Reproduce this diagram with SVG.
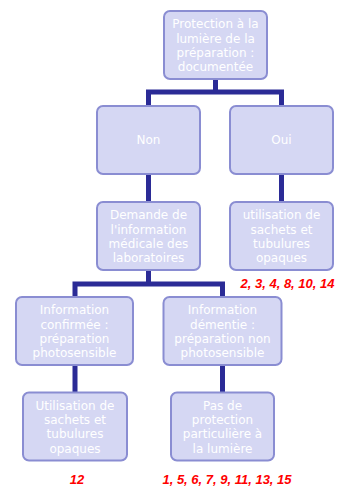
<svg xmlns="http://www.w3.org/2000/svg" width="337" height="486" viewBox="0 0 337 486">
<style>
.box{fill:#d5d7f3;stroke:#8a8dd2;stroke-width:2}
.t{font-family:"DejaVu Sans",Verdana,sans-serif;font-size:12px;fill:#ffffff;text-anchor:middle}
.c{fill:none;stroke:#2b2b96;stroke-width:5;stroke-linejoin:miter;stroke-linecap:butt}
.r{font-family:"Liberation Sans",Arial,sans-serif;font-size:13px;font-weight:bold;font-style:italic;fill:#ff0000;text-anchor:middle}
</style>
<rect width="337" height="486" fill="#ffffff"/>
<g id="connectors">
<path class="c" d="M215.5 79V92M148.5 106V92H281.5V106"/>
<path class="c" d="M148.5 174V202"/>
<path class="c" d="M281.5 174V202"/>
<path class="c" d="M148.5 270V284M75 297V284H222.5V297"/>
<path class="c" d="M75 365V392.5"/>
<path class="c" d="M222.5 365V392.5"/>
</g>
<g id="n1">
<rect class="box" x="164" y="11" width="103" height="68" rx="6"/>
<text class="t" x="215.5"><tspan x="215.5" y="28.3">Protection à la</tspan><tspan x="215.5" y="42.6">lumière de la</tspan><tspan x="215.5" y="56.9">préparation :</tspan><tspan x="215.5" y="71.2">documentée</tspan></text>
</g>
<g id="n2">
<rect class="box" x="97" y="106" width="103" height="68" rx="6"/>
<text class="t" x="148.5" y="144.3">Non</text>
</g>
<g id="n3">
<rect class="box" x="230" y="106" width="103" height="68" rx="6"/>
<text class="t" x="281.5" y="144.3">Oui</text>
</g>
<g id="n4">
<rect class="box" x="97" y="202" width="103" height="68" rx="6"/>
<text class="t"><tspan x="148.5" y="219.3">Demande de</tspan><tspan x="148.5" y="233.6">l'information</tspan><tspan x="148.5" y="247.9">médicale des</tspan><tspan x="148.5" y="262.2">laboratoires</tspan></text>
</g>
<g id="n5">
<rect class="box" x="230" y="202" width="103" height="68" rx="6"/>
<text class="t"><tspan x="281.5" y="219.3">utilisation de</tspan><tspan x="281.5" y="233.6">sachets et</tspan><tspan x="281.5" y="247.9">tubulures</tspan><tspan x="281.5" y="262.2">opaques</tspan></text>
</g>
<g id="n6">
<rect class="box" x="16" y="297" width="117" height="68" rx="6"/>
<text class="t"><tspan x="74.5" y="314.3">Information</tspan><tspan x="74.5" y="328.6">confirmée :</tspan><tspan x="74.5" y="342.9">préparation</tspan><tspan x="74.5" y="357.2">photosensible</tspan></text>
</g>
<g id="n7">
<rect class="box" x="163.5" y="297" width="118" height="68" rx="6"/>
<text class="t"><tspan x="222.5" y="314.3">Information</tspan><tspan x="222.5" y="328.6">démentie :</tspan><tspan x="222.5" y="342.9">préparation non</tspan><tspan x="222.5" y="357.2">photosensible</tspan></text>
</g>
<g id="n8">
<rect class="box" x="23" y="392.5" width="104" height="68" rx="6"/>
<text class="t"><tspan x="75" y="409.8">Utilisation de</tspan><tspan x="75" y="424.1">sachets et</tspan><tspan x="75" y="438.4">tubulures</tspan><tspan x="75" y="452.7">opaques</tspan></text>
</g>
<g id="n9">
<rect class="box" x="171" y="392.5" width="103" height="68" rx="6"/>
<text class="t"><tspan x="222.5" y="409.8">Pas de</tspan><tspan x="222.5" y="424.1">protection</tspan><tspan x="222.5" y="438.4">particulière à</tspan><tspan x="222.5" y="452.7">la lumière</tspan></text>
</g>
<g id="labels">
<text class="r" x="287.5" y="288">2, 3, 4, 8, 10, 14</text>
<text class="r" x="77" y="484">12</text>
<text class="r" x="227" y="484">1, 5, 6, 7, 9, 11, 13, 15</text>
</g>
</svg>
